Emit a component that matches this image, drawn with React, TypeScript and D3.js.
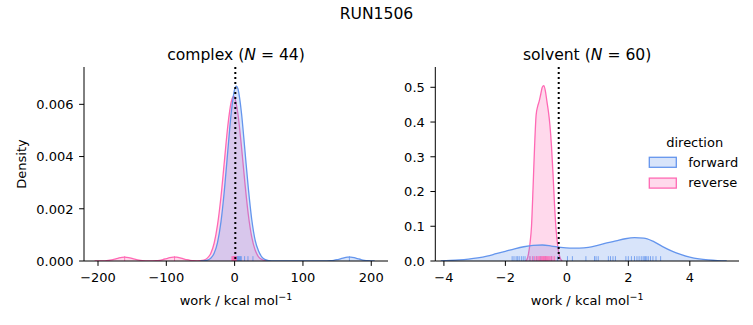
import React from "react";
import * as d3 from "d3";

// ---------- data ----------
const suptitle = "RUN1506";
const directions = ["forward", "reverse"];
const colors = ["#6495ED", "#FF69B4"];

// complex: KDE curves [work, density]
const complexForwardCurve: [number, number][] = [
  [-50, 0], [-45, 0.0000085], [-40, 0.000032], [-35, 0.000105], [-30, 0.000294],
  [-25, 0.000716], [-20, 0.0015], [-15, 0.00271], [-10, 0.00422], [-5, 0.00567],
  [0, 0.00658], [2.5, 0.0067], [5, 0.00658], [10, 0.00567], [15, 0.00425],
  [20, 0.0028], [25, 0.0016], [30, 0.0008], [35, 0.00038], [40, 0.00015],
  [45, 0.00005], [50, 0.000012], [55, 0.000003], [60, 0], [100, 0],
  [135, 0.000004], [140, 0.00001], [145, 0.000024], [150, 0.000049], [155, 0.000084],
  [160, 0.00012], [165, 0.000145], [168, 0.00015], [170, 0.000148], [175, 0.000127],
  [180, 0.000091], [185, 0.000055], [190, 0.000028], [195, 0.000012], [200, 0.000004],
  [205, 0.000001],
];
const complexReverseCurve: [number, number][] = [
  [-205, 0], [-200, 0.000001], [-195, 0.000003], [-190, 0.000008], [-185, 0.00002],
  [-180, 0.000043], [-175, 0.000076], [-170, 0.000113], [-165, 0.000142], [-161, 0.00015],
  [-155, 0.000132], [-150, 0.000098], [-145, 0.000062], [-140, 0.000032], [-135, 0.000014],
  [-130, 0.000006], [-125, 0.000003], [-120, 0.000005], [-115, 0.000012], [-110, 0.000028],
  [-105, 0.000055], [-100, 0.000091], [-95, 0.000127], [-90, 0.000148], [-88, 0.00015],
  [-85, 0.000145], [-80, 0.00012], [-75, 0.000084], [-70, 0.000049], [-65, 0.000024],
  [-60, 0.00001], [-55, 0.000006], [-50, 0.000011], [-45, 0.000035], [-40, 0.000109],
  [-35, 0.00029], [-30, 0.00068], [-25, 0.00139], [-20, 0.00246], [-15, 0.00382],
  [-10, 0.00517], [-5, 0.00609], [-1.5, 0.0063], [0, 0.00626], [5, 0.0056],
  [10, 0.00438], [15, 0.003], [20, 0.00178], [25, 0.00092], [30, 0.00042],
  [35, 0.00016], [40, 0.000056], [45, 0.000017], [50, 0.000004],
];
const complexForwardRug = [2.5, 3.5, 4.5, 5.5, 6.5, 7.5, 8.5, 9.8, 14.6, 19.5, 26.8, 168];
const complexReverseRug = [-161, -88, -4, -3, -2, -1.5, -1, -0.5, 0, 0.5, 1, 1.5, 2, 2.5];
const complexLine = 1.0;

// solvent
const solventForwardCurve: [number, number][] = [
  [-4.1, 0.0005], [-3.8, 0.0015], [-3.5, 0.003], [-3.2, 0.0055], [-2.9, 0.009],
  [-2.6, 0.014], [-2.3, 0.021], [-2.0, 0.028], [-1.7, 0.035], [-1.4, 0.041],
  [-1.1, 0.045], [-0.8, 0.046], [-0.5, 0.043], [-0.2, 0.039], [0.1, 0.037],
  [0.4, 0.037], [0.7, 0.039], [1.0, 0.045], [1.3, 0.052], [1.6, 0.058],
  [1.9, 0.064], [2.2, 0.067], [2.5, 0.066], [2.8, 0.057], [3.1, 0.042],
  [3.4, 0.029], [3.7, 0.019], [4.0, 0.011], [4.3, 0.006], [4.6, 0.003],
  [4.9, 0.0012], [5.2, 0.0004],
];
const solventReverseCurve: [number, number][] = [
  [-1.35, 0], [-1.3, 0.004], [-1.25, 0.02], [-1.2, 0.05], [-1.15, 0.1],
  [-1.1, 0.21], [-1.05, 0.33], [-1.0, 0.42], [-0.95, 0.445], [-0.9, 0.46],
  [-0.85, 0.48], [-0.8, 0.5], [-0.75, 0.505], [-0.7, 0.49], [-0.65, 0.46],
  [-0.6, 0.43], [-0.55, 0.39], [-0.5, 0.33], [-0.45, 0.25], [-0.4, 0.16],
  [-0.35, 0.09], [-0.3, 0.045], [-0.25, 0.018], [-0.2, 0.005], [-0.15, 0],
];
const solventForwardRug = [
  -1.78, -1.72, -1.65, -1.6, -1.55, -1.48, -1.42, -1.36, -1.2, -1.1, -0.98, -0.85,
  -0.7, -0.5, -0.3, 0.02, 0.18, 0.62, 0.9, 0.95, 1.02, 1.35, 1.42, 1.5, 1.58,
  1.92, 2.0, 2.1, 2.2, 2.28, 2.35, 2.42, 2.48, 2.52, 2.56, 2.6, 2.65, 2.72, 2.8, 2.9, 3.05,
];
const solventReverseRug = [
  -1.2, -1.12, -1.05, -1.0, -0.97, -0.93, -0.9, -0.88, -0.85, -0.82, -0.8, -0.78,
  -0.76, -0.74, -0.72, -0.7, -0.68, -0.66, -0.63, -0.6, -0.57, -0.54, -0.5, -0.45, -0.4,
];
const solventLine = -0.265;

const complexXTicks = [-200, -100, 0, 100, 200];
const complexYTicks = [0, 0.002, 0.004, 0.006];
const solventXTicks = [-4, -2, 0, 2, 4];
const solventYTicks = [0, 0.1, 0.2, 0.3, 0.4, 0.5];

// ---------- layout ----------
const W = 753;
const H = 325;
const FONT = "DejaVu Sans";
const TICK = 13;
const TOP = 67;
const BOTTOM = 261;

type PanelProps = {
  title: string;
  n: number;
  x0: number;
  x1: number;
  xDomain: [number, number];
  yDomain: [number, number];
  xTicks: number[];
  yTicks: number[];
  yFmt: (v: number) => string;
  curves: [number, number][][];
  rugs: number[][];
  vline: number;
  yLabel?: string;
};

const fmtMinus = (s: string) => s.replace("-", "\u2212");

function Panel(p: PanelProps) {
  const x = d3.scaleLinear().domain(p.xDomain).range([p.x0, p.x1]);
  const y = d3.scaleLinear().domain(p.yDomain).range([BOTTOM, TOP]);
  const area = d3
    .area<[number, number]>()
    .x((d) => x(d[0]))
    .y0(y(0))
    .y1((d) => y(d[1]))
    .curve(d3.curveMonotoneX);
  const line = d3
    .line<[number, number]>()
    .x((d) => x(d[0]))
    .y((d) => y(d[1]))
    .curve(d3.curveMonotoneX);
  const rugH = (BOTTOM - TOP) * 0.025;
  const cx = (p.x0 + p.x1) / 2;
  // draw reverse first, forward on top
  const order = [1, 0];
  return (
    <g>
      <defs>
        <clipPath id={"clip" + p.n}>
          <rect x={p.x0} y={TOP} width={p.x1 - p.x0} height={BOTTOM - TOP} />
        </clipPath>
      </defs>
      <g clipPath={`url(#clip${p.n})`}>
        {order.map((i) => (
          <g key={"c" + i}>
            <path d={area(p.curves[i]) || ""} fill={colors[i]} fillOpacity={0.25} stroke="none" />
            <path d={line(p.curves[i]) || ""} fill="none" stroke={colors[i]} strokeWidth={1.3} />
          </g>
        ))}
        {[0, 1].map((i) =>
          p.rugs[i].map((v, j) => (
            <line
              key={`r${i}-${j}`}
              x1={x(v)}
              x2={x(v)}
              y1={BOTTOM}
              y2={BOTTOM - rugH}
              stroke={colors[i]}
              strokeWidth={1}
              strokeOpacity={0.8}
            />
          ))
        )}
      </g>
      <line
        x1={x(p.vline)}
        x2={x(p.vline)}
        y1={TOP}
        y2={BOTTOM}
        stroke="#000"
        strokeWidth={2}
        strokeDasharray="2,3"
      />
      {/* spines */}
      <line x1={p.x0} x2={p.x0} y1={TOP} y2={BOTTOM} stroke="#000" strokeWidth={1} />
      <line x1={p.x0} x2={p.x1} y1={BOTTOM} y2={BOTTOM} stroke="#000" strokeWidth={1} />
      {p.xTicks.map((t) => (
        <g key={"xt" + t}>
          <line x1={x(t)} x2={x(t)} y1={BOTTOM} y2={BOTTOM + 4.9} stroke="#000" strokeWidth={1} />
          <text x={x(t)} y={BOTTOM + 20.5} textAnchor="middle" fontSize={TICK} fontFamily={FONT}>
            {fmtMinus(String(t))}
          </text>
        </g>
      ))}
      {p.yTicks.map((t) => (
        <g key={"yt" + t}>
          <line x1={p.x0 - 4.9} x2={p.x0} y1={y(t)} y2={y(t)} stroke="#000" strokeWidth={1} />
          <text
            x={p.x0 - 10.5}
            y={y(t) + 4.8}
            textAnchor="end"
            fontSize={TICK}
            fontFamily={FONT}
          >
            {p.yFmt(t)}
          </text>
        </g>
      ))}
      <text x={cx} y={60} textAnchor="middle" fontSize={15.6} fontFamily={FONT}>
        {p.title} (<tspan fontStyle="italic">N</tspan> = {p.n})
      </text>
      <text x={cx} y={305} textAnchor="middle" fontSize={TICK} fontFamily={FONT}>
        work / kcal mol
        <tspan fontSize={9.5} dy={-5.5}>
          {"\u22121"}
        </tspan>
      </text>
      {p.yLabel && (
        <text
          transform={`translate(26,${(TOP + BOTTOM) / 2}) rotate(-90)`}
          textAnchor="middle"
          fontSize={TICK}
          fontFamily={FONT}
        >
          {p.yLabel}
        </text>
      )}
    </g>
  );
}

export default function App() {
  const legendX = 649.3;
  return (
    <svg width={W} height={H} style={{ display: "block", position: "absolute", left: 0, top: 0 }}>
      <rect width={W} height={H} fill="#fff" />
      <text x={376.5} y={18.5} textAnchor="middle" fontSize={15.6} fontFamily={FONT}>
        {suptitle}
      </text>
      <Panel
        title="complex"
        n={44}
        x0={84}
        x1={388}
        xDomain={[-220.5, 224.5]}
        yDomain={[0, 0.00743]}
        xTicks={complexXTicks}
        yTicks={complexYTicks}
        yFmt={(v) => v.toFixed(3)}
        curves={[complexForwardCurve, complexReverseCurve]}
        rugs={[complexForwardRug, complexReverseRug]}
        vline={complexLine}
        yLabel="Density"
      />
      <Panel
        title="solvent"
        n={60}
        x0={435.3}
        x1={739}
        xDomain={[-4.28, 5.6]}
        yDomain={[0, 0.5584]}
        xTicks={solventXTicks}
        yTicks={solventYTicks}
        yFmt={(v) => v.toFixed(1)}
        curves={[solventForwardCurve, solventReverseCurve]}
        rugs={[solventForwardRug, solventReverseRug]}
        vline={solventLine}
      />
      {/* legend */}
      <text x={694.7} y={146.5} textAnchor="middle" fontSize={TICK} fontFamily={FONT}>
        direction
      </text>
      {directions.map((d, i) => (
        <g key={d}>
          <rect
            x={legendX}
            y={157.3 + i * 20.8}
            width={27}
            height={10}
            fill={colors[i]}
            fillOpacity={0.25}
            stroke={colors[i]}
            strokeWidth={1.3}
          />
          <text x={688.3} y={166.5 + i * 20.8} fontSize={TICK} fontFamily={FONT}>
            {d}
          </text>
        </g>
      ))}
    </svg>
  );
}
